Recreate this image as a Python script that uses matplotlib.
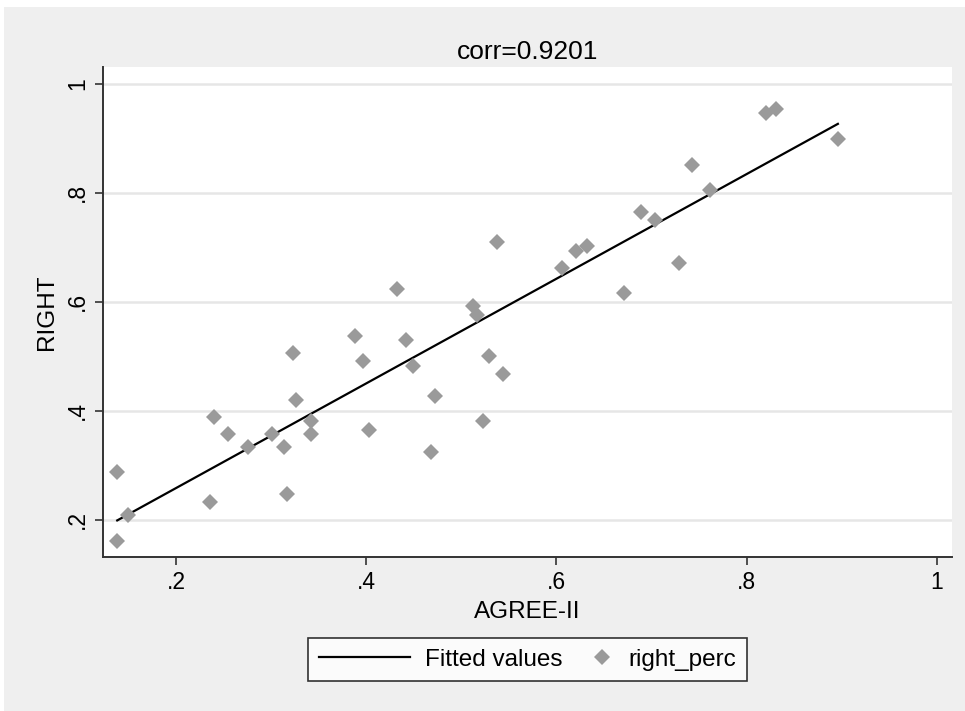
import numpy as np
import matplotlib.pyplot as plt
from matplotlib.patches import Rectangle
from matplotlib.legend_handler import HandlerLine2D

# AGREE-II score vs. share of correct answers
agree = [0.138, 0.138, 0.149, 0.236, 0.240, 0.255, 0.276, 0.301, 0.313, 0.317,
         0.323, 0.326, 0.342, 0.342, 0.388, 0.396, 0.403, 0.432, 0.442, 0.449,
         0.472, 0.468, 0.512, 0.516, 0.523, 0.529, 0.537, 0.544, 0.606, 0.621,
         0.632, 0.671, 0.689, 0.704, 0.729, 0.743, 0.762, 0.820, 0.831, 0.896]
right_perc = [0.288, 0.161, 0.209, 0.233, 0.389, 0.358, 0.334, 0.358, 0.334, 0.248,
              0.506, 0.420, 0.382, 0.358, 0.538, 0.492, 0.365, 0.624, 0.530, 0.483,
              0.428, 0.325, 0.593, 0.576, 0.382, 0.501, 0.710, 0.468, 0.662, 0.694,
              0.703, 0.617, 0.765, 0.750, 0.672, 0.851, 0.806, 0.947, 0.954, 0.899]
corr_value = 0.9201
xticks = [0.2, 0.4, 0.6, 0.8, 1.0]
xtick_labels = ['.2', '.4', '.6', '.8', '1']
yticks = [0.2, 0.4, 0.6, 0.8, 1.0]
ytick_labels = ['.2', '.4', '.6', '.8', '1']

x = np.array(agree)
y = np.array(right_perc)
slope, intercept = np.polyfit(x, y, 1)
xs = np.sort(x)
fitted = intercept + slope * xs


class RightMarker(HandlerLine2D):
    # put the single legend marker at the right end of its key box
    def get_xdata(self, legend, xdescent, ydescent, width, height, fontsize):
        xd = np.array([width - xdescent - 16.0, width - xdescent])
        return xd, xd


plt.rcParams['font.family'] = ['Liberation Sans', 'DejaVu Sans']

fig = plt.figure(figsize=(9.65, 7.11), dpi=100)
fig.patch.set_facecolor('#efefef')
# white strips along the top and left edges
fig.patches.append(Rectangle((0, 0.99), 1, 0.01, transform=fig.transFigure,
                             facecolor='white', edgecolor='none', zorder=0))
fig.patches.append(Rectangle((0, 0), 0.004, 1, transform=fig.transFigure,
                             facecolor='white', edgecolor='none', zorder=0))

ax = fig.add_axes([0.1067, 0.2166, 0.8798, 0.6892])
ax.set_facecolor('white')

fit_line, = ax.plot(xs, fitted, color='black', lw=1.6, label='Fitted values', zorder=3)
pts, = ax.plot(x, y, linestyle='none', marker='D', ms=8.6, color='#9a9a9a',
               markeredgewidth=0, label='right_perc', zorder=4)

ax.set_xlim(0.123, 1.016)
ax.set_ylim(0.132, 1.031)
ax.set_xticks(xticks)
ax.set_xticklabels(xtick_labels)
ax.set_yticks(yticks)
ax.set_yticklabels(ytick_labels, rotation=90, va='center')
ax.tick_params(labelsize=16.5, length=6, width=1.2, color='#333333', pad=4)
ax.grid(axis='y', color='#e6e6e6', lw=1.8)
ax.set_axisbelow(True)

for side in ['top', 'right']:
    ax.spines[side].set_visible(False)
for side in ['left', 'bottom']:
    ax.spines[side].set_color('#333333')
    ax.spines[side].set_linewidth(1.4)

ax.set_title('corr=%.4f' % corr_value, fontsize=19, pad=6)
ax.set_xlabel('AGREE-II', fontsize=17.5, labelpad=5)
ax.set_ylabel('RIGHT', fontsize=17.5, labelpad=6)

leg = fig.legend([fit_line, pts], ['Fitted values', 'right_perc'],
                 loc='center', bbox_to_anchor=(0.5466, 0.0724), ncol=2,
                 numpoints=1, fontsize=17.5, frameon=True, fancybox=False,
                 edgecolor='black', handlelength=3.75, columnspacing=-1.65,
                 borderpad=0.45, handletextpad=0.62,
                 handler_map={pts: RightMarker()})
leg.get_frame().set_linewidth(1.2)

fig.savefig('out.png', dpi=100, facecolor=fig.get_facecolor())
